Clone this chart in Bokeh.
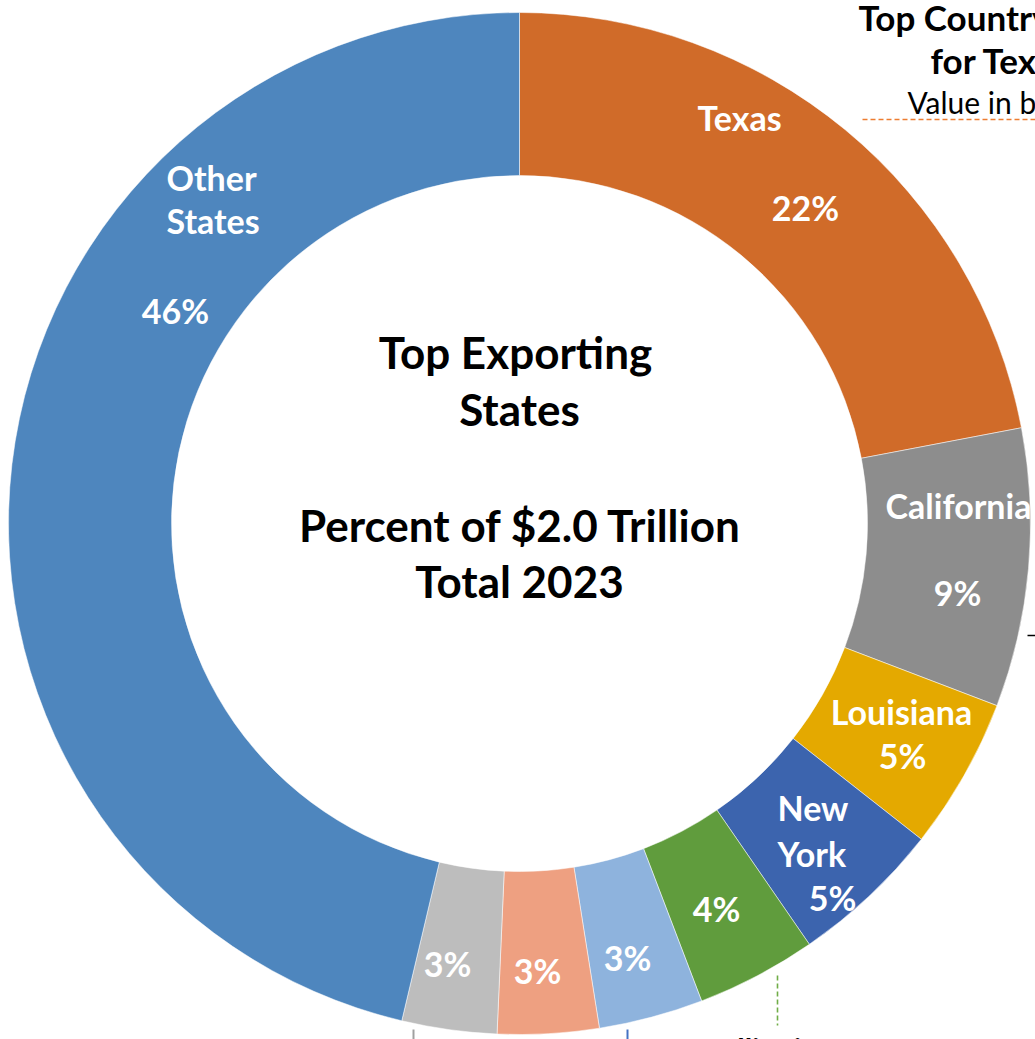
import numpy as np
from bokeh.plotting import figure
from bokeh.models import Range1d
from bokeh.core.properties import value
from bokeh.embed import file_html
from bokeh.resources import INLINE

# ---------------- data ----------------
states = ["Texas", "California", "Louisiana", "New York", "Illinois",
          "Michigan", "Ohio", "Washington", "Other States"]
shares = [22.0, 8.8, 4.8, 4.8, 3.8, 3.3, 3.2, 3.0, 46.3]
pct_labels = ["22%", "9%", "5%", "5%", "4%", "3%", "3%", "3%", "46%"]
name_labels = [["Texas"], ["California"], ["Louisiana"], ["New", "York"],
               [], [], [], [], ["Other", "States"]]
colors = ["#D06B29", "#8D8D8D", "#E4A900", "#3C64AE", "#609C3D",
          "#8EB3DD", "#EEA081", "#BDBDBD", "#4E86BE"]
center_title = ["Top Exporting", "States", "Percent of $2.0 Trillion", "Total 2023"]
side_title = ["Top Country", "for Tex"]
side_sub = "Value in b"
bottom_label = "Illinois"

# ---------------- layout (screen px) ----------------
W, H = 1035, 1039
CX, CY = 519, 523
R_OUT, R_IN = 511, 348
name_pos = [[(739, 117)], [(958, 505)], [(901, 711)], [(777, 807), (777, 853)],
            [], [], [], [], [(166, 177), (166, 220)]]
name_align = ["center", "center", "center", "left", "center", "center", "center", "center", "left"]
pct_pos = [(805, 207), (957, 592), (902, 755), (832, 897), (716, 908),
           (627, 957), (537, 970), (447, 963), (175, 310)]
title_pos = [(515, 351), (519, 408), (520, 524), (519, 580)]

def Y(sy):
    return -sy

p = figure(width=W, height=H, output_backend="svg", toolbar_location=None,
           x_range=Range1d(0, W), y_range=Range1d(-H, 0),
           x_axis_type=None, y_axis_type=None, min_border=0)
p.grid.visible = False
p.outline_line_color = None
p.background_fill_color = "white"
p.border_fill_color = "white"

frac = np.array(shares) / sum(shares)
cum = np.concatenate([[0], np.cumsum(frac)])
start = np.pi / 2 - 2 * np.pi * cum[:-1]
end = np.pi / 2 - 2 * np.pi * cum[1:]

p.annular_wedge(x=[CX] * len(shares), y=[Y(CY)] * len(shares),
                inner_radius=R_IN, outer_radius=R_OUT,
                start_angle=list(start), end_angle=list(end), direction="clock",
                fill_color=colors, line_color="white", line_alpha=0.5, line_width=1)

font = value("Lato")
for i in range(len(states)):
    for (sx, sy), t in zip(name_pos[i], name_labels[i]):
        p.text(x=[sx], y=[Y(sy)], text=[t], text_font=font, text_font_style="bold",
               text_font_size="34px", text_color="white", text_align=name_align[i],
               text_baseline="middle")
    sx, sy = pct_pos[i]
    p.text(x=[sx], y=[Y(sy)], text=[pct_labels[i]], text_font=font, text_font_style="bold",
           text_font_size="34px", text_color="white", text_align="center",
           text_baseline="middle")

for (sx, sy), t in zip(title_pos, center_title):
    p.text(x=[sx], y=[Y(sy)], text=[t], text_font=font, text_font_style="bold",
           text_font_size="44px", text_color="black", text_align="center",
           text_baseline="middle")

# side (cropped) title elements
p.text(x=[858], y=[Y(16)], text=[side_title[0]], text_font=font, text_font_style="bold",
       text_font_size="35px", text_color="black", text_align="left", text_baseline="middle")
p.text(x=[930], y=[Y(59)], text=[side_title[1]], text_font=font, text_font_style="bold",
       text_font_size="35px", text_color="black", text_align="left", text_baseline="middle")
p.text(x=[907], y=[Y(101)], text=[side_sub], text_font=font,
       text_font_size="30px", text_color="black", text_align="left", text_baseline="middle")
p.line(x=[862, 1035], y=[Y(119), Y(119)], line_color="#ED7D31", line_width=1.6, line_dash="5 3")

# leader lines
p.line(x=[1027, 1035], y=[Y(635), Y(635)], line_color="black", line_width=1.5)
p.line(x=[413, 413], y=[Y(1029), Y(1039)], line_color="#A0A0A0", line_width=2)
p.line(x=[627, 627], y=[Y(1029), Y(1039)], line_color="#4472C4", line_width=2)
p.line(x=[777, 777], y=[Y(975), Y(1025)], line_color="#70AD47", line_width=1.6, line_dash="5 3")

p.text(x=[728], y=[Y(1030)], text=[bottom_label], text_font=font, text_font_style="bold",
       text_font_size="30px", text_color="black", text_align="left", text_baseline="top")

open("out.html", "w").write(file_html(p, INLINE))
